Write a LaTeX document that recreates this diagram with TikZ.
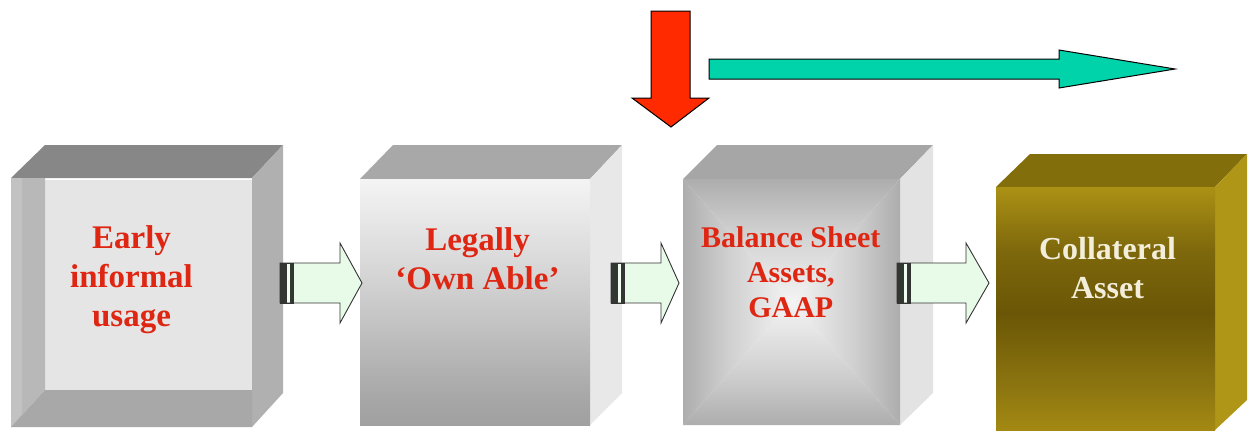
\documentclass[tikz,border=0pt]{standalone}
\usepackage{fontspec}
\setmainfont{Liberation Serif}
\definecolor{txtred}{RGB}{222,38,18}
\definecolor{txtcream}{RGB}{242,238,218}
\definecolor{redarrow}{RGB}{255,42,0}
\definecolor{tealarrow}{RGB}{0,210,170}
\definecolor{greenfill}{RGB}{232,251,232}
\definecolor{bandgray}{RGB}{50,55,50}
% silver vertical shading (box 2)
\definecolor{sA}{RGB}{132,132,132}
\definecolor{sB}{RGB}{166,166,166}
\definecolor{sC}{RGB}{212,212,212}
\definecolor{sD}{RGB}{244,244,244}
\pgfdeclareverticalshading{silvershade}{100bp}{color(0bp)=(sA); color(30bp)=(sB); color(55bp)=(sC); color(75bp)=(sD); color(100bp)=(white)}
% gold vertical shading (box 4)
\definecolor{gA}{RGB}{194,162,26}
\definecolor{gB}{RGB}{176,148,20}
\definecolor{gC}{RGB}{140,117,16}
\definecolor{gD}{RGB}{106,86,6}
\definecolor{gE}{RGB}{126,104,12}
\definecolor{gF}{RGB}{168,142,20}
\definecolor{gG}{RGB}{192,164,24}
\definecolor{gH}{RGB}{200,170,26}
\pgfdeclareverticalshading{goldshade}{100bp}{color(0bp)=(gA); color(20bp)=(gB); color(34bp)=(gC); color(49bp)=(gD); color(62bp)=(gE); color(74bp)=(gF); color(82bp)=(gG); color(100bp)=(gH)}
% pillow shading (box 3): white at centre side (0), grey at edge (100)
\definecolor{pillowedge}{RGB}{132,132,132}
\definecolor{pillowmid}{RGB}{206,206,206}
\definecolor{pillowin}{RGB}{244,244,244}
\pgfdeclareverticalshading{pillowshade}{100bp}{color(0bp)=(white); color(25bp)=(pillowin); color(55bp)=(pillowmid); color(100bp)=(pillowedge)}
\begin{document}
\begin{tikzpicture}[x=1pt,y=-1pt,
  lbl/.style={font=\fontsize{33}{39}\selectfont\bfseries, text=txtred, align=center, inner sep=0pt},
  blockarrow/.style={fill=greenfill, draw=black!80, line width=0.9pt, line join=miter},
  bigarrow/.style={draw=black, line width=1pt, line join=miter}]
\useasboundingbox (0,0) rectangle (1250,432);
\fill[white] (0,0) rectangle (1250,432);

% ---------- Box 1 ----------
\fill[black!47] (11,178) -- (45,145) -- (283,145) -- (252,178) -- cycle;
\fill[black!31] (252,178) -- (283,145) -- (283,393) -- (252,427) -- cycle;
\fill[black!10] (45,180) rectangle (252,390);
\fill[black!28] (11,178) -- (45,178) -- (45,390) -- (11,427) -- cycle;
\fill[black!24] (11,178) -- (22,178) -- (22,415) -- (11,427) -- cycle;
\fill[black!34] (45,390) -- (252,390) -- (252,427) -- (11,427) -- cycle;
\coordinate (b1) at (131.5,280);
\node[lbl] (t1) at (b1) {Early\\informal\\usage};

% ---------- Box 2 ----------
\fill[black!34] (360,179) -- (393,145) -- (622,145) -- (590,179) -- cycle;
\fill[black!9] (590,179) -- (622,145) -- (622,393) -- (590,425) -- cycle;
\shade[shading=silvershade] (360,179) rectangle (590,425);
\coordinate (b2) at (477.5,259);
\node[lbl] (t2) at (b2) {Legally\\‘Own Able’};

% ---------- Box 3 ----------
\fill[black!35] (683,179) -- (717,145) -- (933,145) -- (900,179) -- cycle;
\fill[black!11] (900,179) -- (933,145) -- (933,393) -- (900,425) -- cycle;
\coordinate (c3) at (791.5,302);
\shade[shading=pillowshade] (683,179) -- (900,179) -- (c3) -- cycle;
\shade[shading=pillowshade, shading angle=180] (683,425) -- (900,425) -- (c3) -- cycle;
\shade[shading=pillowshade, shading angle=90] (683,179) -- (683,425) -- (c3) -- cycle;
\shade[shading=pillowshade, shading angle=-90] (900,179) -- (900,425) -- (c3) -- cycle;
\coordinate (b3) at (790.8,272);
\node[lbl, font=\fontsize{30}{35}\selectfont\bfseries] (t3) at (b3) {Balance Sheet\\Assets,\\GAAP};

% ---------- Box 4 ----------
\fill[color={rgb,255:red,131;green,110;blue,12}] (996,187) -- (1030,154) -- (1247,154) -- (1215,187) -- cycle;
\fill[color={rgb,255:red,176;green,150;blue,22}] (1215,187) -- (1247,154) -- (1247,400) -- (1215,430) -- cycle;
\shade[shading=goldshade] (996,187) rectangle (1215,430);
\coordinate (b4) at (1107.5,268);
\node[lbl, text=txtcream, font=\fontsize{32}{39}\selectfont\bfseries] (t4) at (b4) {Collateral\\Asset};

% ---------- Block arrows between boxes ----------
\foreach \xa/\xh/\xt in {280/340/362, 611/661/679, 897/966/989}{
  \draw[blockarrow] (\xa,263) -- (\xh,263) -- (\xh,243) -- (\xt,283) -- (\xh,323) -- (\xh,303) -- (\xa,303) -- cycle;
  \fill[bandgray] (\xa,263) rectangle ({\xa+7},303);
  \fill[greenfill!60!white] ({\xa+7},264) rectangle ({\xa+10},302);
  \fill[bandgray] ({\xa+10},263) rectangle ({\xa+13},303);
  \draw[black!80, line width=0.9pt] (\xa,263) rectangle ({\xa+13},303);
}

% ---------- Top arrows ----------
\draw[bigarrow, fill=redarrow] (651,11) -- (690,11) -- (690,98) -- (709,98) -- (671,127) -- (632,98) -- (651,98) -- cycle;
\draw[bigarrow, fill=tealarrow] (709,59) -- (1059,59) -- (1059,50) -- (1175,69) -- (1059,88) -- (1059,79) -- (709,79) -- cycle;
\end{tikzpicture}
\end{document}
